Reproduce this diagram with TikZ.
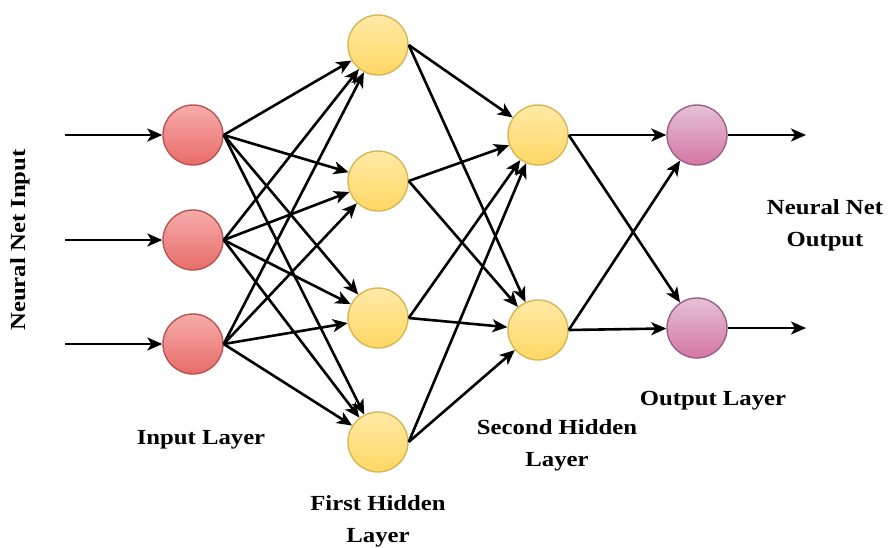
\documentclass[tikz,border=0pt]{standalone}
\usepackage{fontspec}
\setmainfont[FakeStretch=1.15]{Liberation Serif}
\usetikzlibrary{arrows.meta}
\definecolor{redF}{HTML}{F6ACAA}
\definecolor{redG}{HTML}{E86C69}
\definecolor{redS}{HTML}{B85450}
\definecolor{yelF}{HTML}{FFE9A6}
\definecolor{yelG}{HTML}{FFD763}
\definecolor{yelS}{HTML}{D6B656}
\definecolor{purF}{HTML}{E6C0D6}
\definecolor{purG}{HTML}{D477A3}
\definecolor{purS}{HTML}{996185}
\tikzset{
  neuron/.style={circle, minimum size=60pt, inner sep=0pt, line width=1.4pt},
  inn/.style={neuron, draw=redS, top color=redF, bottom color=redG},
  hid/.style={neuron, draw=yelS, top color=yelF, bottom color=yelG},
  outn/.style={neuron, draw=purS, top color=purF, bottom color=purG},
  conn/.style={line width=2.6pt, -{Stealth[length=15pt,width=13pt,inset=4pt]}},
  lbl/.style={font=\fontsize{21.5}{32}\selectfont\bfseries, align=center, text=black}
}
\begin{document}
\begin{tikzpicture}[x=1pt,y=-1pt]
\useasboundingbox (0,0) rectangle (891,547);
% input
\node[inn] (i1) at (193,135) {};
\node[inn] (i2) at (193,240) {};
\node[inn] (i3) at (193,344) {};
% first hidden
\node[hid] (h1) at (378,45) {};
\node[hid] (h2) at (378,181) {};
\node[hid] (h3) at (378,318) {};
\node[hid] (h4) at (378,442) {};
% second hidden
\node[hid] (s1) at (538,135) {};
\node[hid] (s2) at (538,330) {};
% output
\node[outn] (o1) at (697,135) {};
\node[outn] (o2) at (697,328) {};
% inputs
\coordinate (a1) at (65,135);
\coordinate (a2) at (65,240);
\coordinate (a3) at (65,344);
\coordinate (b1) at (806,135);
\coordinate (b2) at (806,328);
\draw[conn] (a1) -- (i1);
\draw[conn] (a2) -- (i2);
\draw[conn] (a3) -- (i3);
\draw[conn] (o1.east) -- (b1);
\draw[conn] (o2.east) -- (b2);
\foreach \s in {i1,i2,i3}{
  \foreach \t in {h1,h2,h3,h4}{
    \draw[conn] (\s.east) -- (\t);
  }
}
\foreach \s in {h1,h2,h3,h4}{
  \foreach \t in {s1,s2}{
    \draw[conn] (\s.east) -- (\t);
  }
}
\foreach \s in {s1,s2}{
  \foreach \t in {o1,o2}{
    \draw[conn] (\s.east) -- (\t);
  }
}
% labels
\node[lbl, rotate=90] (lin) at (20,240) {Neural Net Input};
\node[lbl] (lil) at (201,440) {Input Layer};
\node[lbl] (lfh) at (378,521) {First Hidden\\Layer};
\node[lbl] (lsh) at (557,445) {Second Hidden\\Layer};
\node[lbl] (lol) at (713,401) {Output Layer};
\node[lbl] (lno) at (825,225) {Neural Net\\Output};
\end{tikzpicture}
\end{document}
